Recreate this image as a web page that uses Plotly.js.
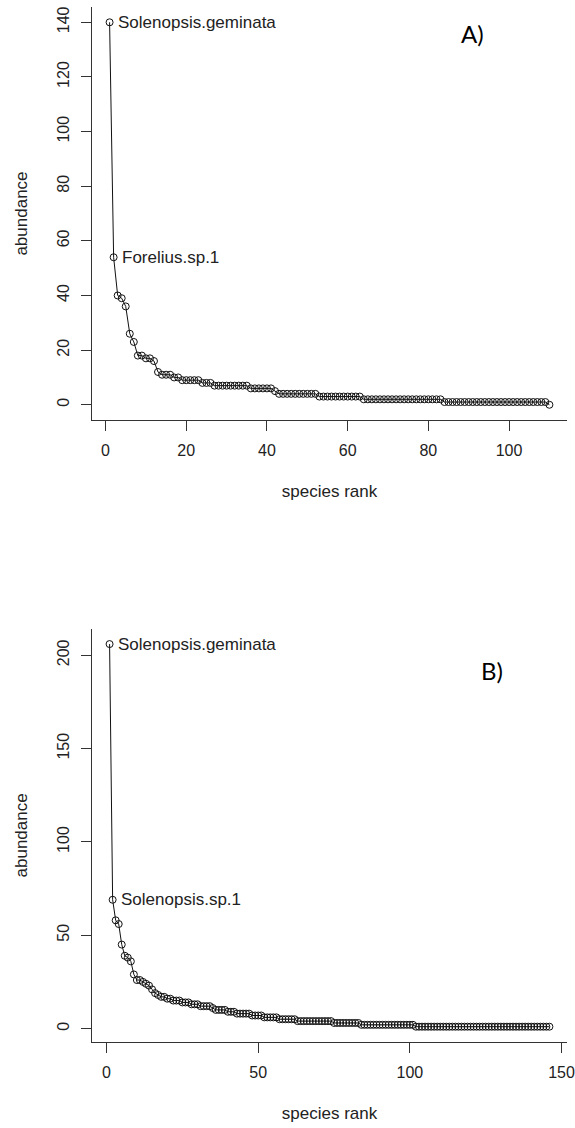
<!DOCTYPE html>
<html>
<head>
<meta charset="utf-8">
<script src="https://cdn.plot.ly/plotly-3.0.1.min.js"></script>
<style>
  html, body { margin: 0; padding: 0; background: #fff; }
  #chart { width: 575px; height: 1128px; }
</style>
</head>
<body>
<div id="chart"></div>
<script>
// Panel A: abundance by species rank
const abundanceA = [
  140, 54, 40, 39, 36, 26, 23, 18, 18, 17,
  17, 16, 12, 11, 11, 11, 10, 10, 9, 9,
  9, 9, 9, 8, 8, 8, 7, 7, 7, 7,
  7, 7, 7, 7, 7, 6, 6, 6, 6, 6,
  6, 5, 4, 4, 4, 4, 4, 4, 4, 4,
  4, 4, 3, 3, 3, 3, 3, 3, 3, 3,
  3, 3, 3, 2, 2, 2, 2, 2, 2, 2,
  2, 2, 2, 2, 2, 2, 2, 2, 2, 2,
  2, 2, 2, 1, 1, 1, 1, 1, 1, 1,
  1, 1, 1, 1, 1, 1, 1, 1, 1, 1,
  1, 1, 1, 1, 1, 1, 1, 1, 1, 0
];
// Panel B: abundance by species rank
const abundanceB = [
  206, 69, 58, 56, 45, 39, 38, 36, 29, 26,
  26, 25, 24, 23, 21, 19, 18, 17, 17, 16,
  16, 15, 15, 15, 14, 14, 14, 13, 13, 13,
  12, 12, 12, 12, 11, 10, 10, 10, 10, 9,
  9, 9, 8, 8, 8, 8, 8, 7, 7, 7,
  7, 6, 6, 6, 6, 6, 5, 5, 5, 5,
  5, 5, 4, 4, 4, 4, 4, 4, 4, 4,
  4, 4, 4, 4, 3, 3, 3, 3, 3, 3,
  3, 3, 3, 2, 2, 2, 2, 2, 2, 2,
  2, 2, 2, 2, 2, 2, 2, 2, 2, 2,
  2, 1, 1, 1, 1, 1, 1, 1, 1, 1,
  1, 1, 1, 1, 1, 1, 1, 1, 1, 1,
  1, 1, 1, 1, 1, 1, 1, 1, 1, 1,
  1, 1, 1, 1, 1, 1, 1, 1, 1, 1,
  1, 1, 1, 1, 1, 1
];
// labelled species (rank -> name)
const labelRanksA = [1, 2];
const labelNamesA = ["Solenopsis.geminata", "Forelius.sp.1"];
const labelRanksB = [1, 2];
const labelNamesB = ["Solenopsis.geminata", "Solenopsis.sp.1"];
const panelLabels = ["A)", "B)"];
const xTicksA = [0, 20, 40, 60, 80, 100];
const yTicksA = [0, 20, 40, 60, 80, 100, 120, 140];
const xTicksB = [0, 50, 100, 150];
const yTicksB = [0, 50, 100, 150, 200];

const ranksA = abundanceA.map((_, i) => i + 1);
const ranksB = abundanceB.map((_, i) => i + 1);

const FONT = "Liberation Sans, Arial, sans-serif";
const TXT = "#222";
const LINE = "#333";

function series(x, y, xa, ya) {
  return {
    x: x, y: y, xaxis: xa, yaxis: ya,
    type: "scatter", mode: "lines+markers",
    line: { color: "#111", width: 1 },
    marker: { symbol: "circle-open", size: 7, color: "#111", line: { width: 1, color: "#111" } },
    hoverinfo: "x+y", showlegend: false
  };
}

function axisCommon(extra) {
  return Object.assign({
    showline: true, linecolor: LINE, linewidth: 1,
    ticks: "outside", ticklen: 10, tickwidth: 1, tickcolor: LINE,
    showgrid: false, zeroline: false,
    tickfont: { family: FONT, size: 16, color: TXT },
    tickmode: "array", automargin: false
  }, extra);
}

const data = [
  series(ranksA, abundanceA, "x", "y"),
  series(ranksB, abundanceB, "x2", "y2")
];

const annotations = [];
labelRanksA.forEach((r, i) => annotations.push({
  x: r, y: abundanceA[r - 1], xref: "x", yref: "y", text: labelNamesA[i],
  showarrow: false, xanchor: "left", yanchor: "middle", xshift: 6,
  font: { family: FONT, size: 17, color: TXT }
}));
labelRanksB.forEach((r, i) => annotations.push({
  x: r, y: abundanceB[r - 1], xref: "x2", yref: "y2", text: labelNamesB[i],
  showarrow: false, xanchor: "left", yanchor: "middle", xshift: 6,
  font: { family: FONT, size: 17, color: TXT }
}));
annotations.push({
  x: 0.800, y: 0.974, xref: "paper", yref: "paper", text: panelLabels[0],
  showarrow: false, xanchor: "center", yanchor: "middle",
  font: { family: "Lato, Open Sans, sans-serif", size: 24, color: "#000" }
});
annotations.push({
  x: 0.842, y: 0.3585, xref: "paper", yref: "paper", text: panelLabels[1],
  showarrow: false, xanchor: "center", yanchor: "middle",
  font: { family: "Lato, Open Sans, sans-serif", size: 24, color: "#000" }
});

const layout = {
  width: 575, height: 1128,
  margin: { l: 92, r: 8, t: 7, b: 86 },
  paper_bgcolor: "#fff", plot_bgcolor: "#fff",
  font: { family: FONT, color: TXT },
  xaxis: axisCommon({
    anchor: "y", range: [-3.36, 114.36], tickvals: xTicksA, ticktext: xTicksA.map(String),
    ticklabelstandoff: 6,
    title: { text: "species rank", font: { family: FONT, size: 17, color: TXT }, standoff: 26 }
  }),
  yaxis: axisCommon({
    anchor: "x", domain: [0.6009, 1], range: [-5.6, 145.6], tickvals: yTicksA, ticktext: yTicksA.map(String),
    tickangle: -90, ticklabelstandoff: 6,
    title: { text: "abundance", font: { family: FONT, size: 17, color: TXT }, standoff: 22 }
  }),
  xaxis2: axisCommon({
    anchor: "y2", range: [-4.8, 151.8], tickvals: xTicksB, ticktext: xTicksB.map(String),
    ticklabelstandoff: 6,
    title: { text: "species rank", font: { family: FONT, size: 17, color: TXT }, standoff: 26 }
  }),
  yaxis2: axisCommon({
    anchor: "x2", domain: [0, 0.39925], range: [-7.2, 214.2], tickvals: yTicksB, ticktext: yTicksB.map(String),
    tickangle: -90, ticklabelstandoff: 6,
    title: { text: "abundance", font: { family: FONT, size: 17, color: TXT }, standoff: 22 }
  }),
  annotations: annotations
};

Plotly.newPlot("chart", data, layout, { displayModeBar: false, staticPlot: true });
</script>
</body>
</html>
